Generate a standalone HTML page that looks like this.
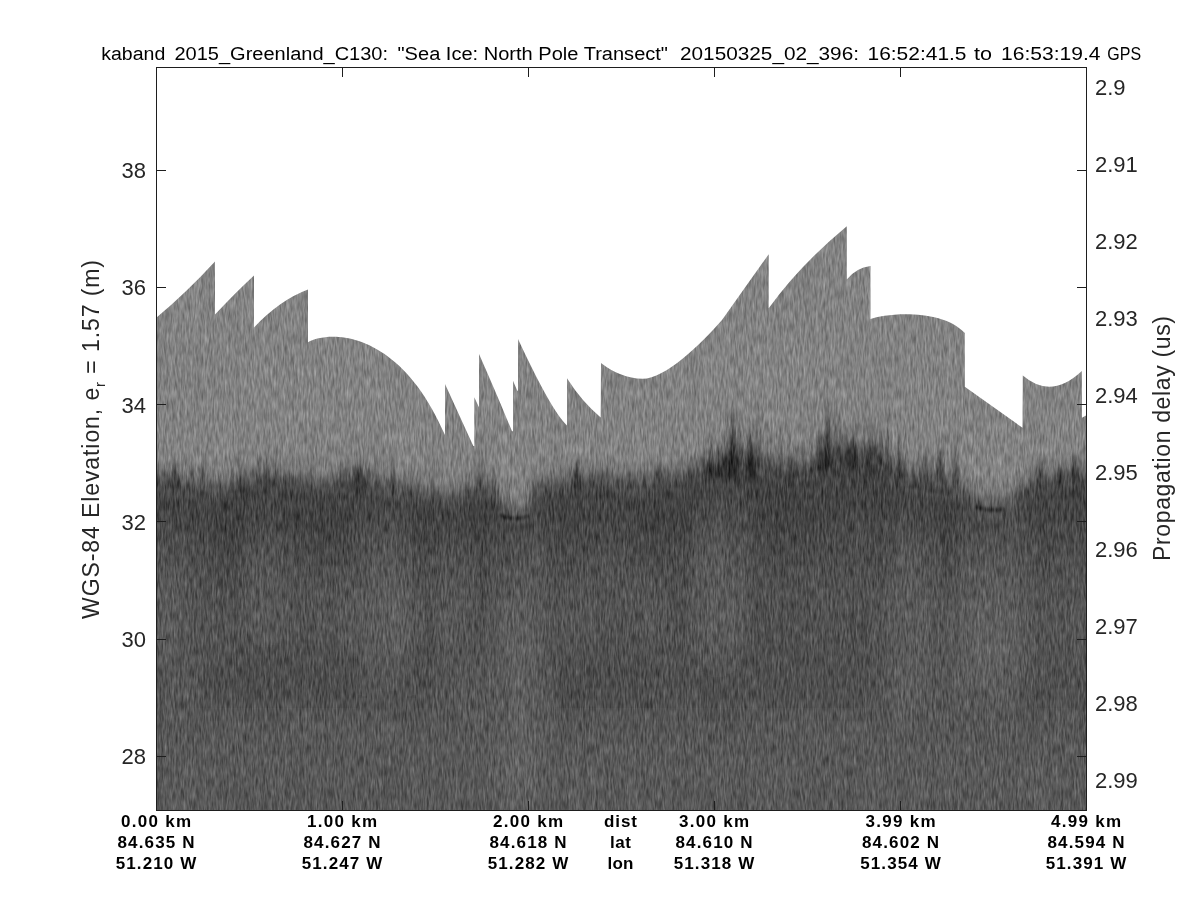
<!DOCTYPE html><html><head><meta charset="utf-8"><style>html,body{margin:0;padding:0;background:#fff;overflow:hidden}svg{display:block;will-change:transform}</style></head><body><svg width="1200" height="900" viewBox="0 0 1200 900"><rect width="1200" height="900" fill="#fff"/><defs><clipPath id="cp"><path d="M156,318 Q186,293 215,261.5 L215,314.5 Q235,293 254,275.4 L254,327.5 Q280,300 308,289.6 L308,342.2 C330,330 400,330 445,435 L445,384 L473.3,446 L474.3,446 L474.3,397.3 L478.7,406.7 L479,406.7 L479,354 Q495,390 512,431.3 L513,431.3 L513,380.7 L517.3,390.7 L518,390.7 L518,339 Q552,412 567,425.4 L567,378.3 Q582,402 600.7,417.4 L601,363 Q620,378 642.5,378.8 C665,379 700,345 722,320 L768.7,254.2 L768.7,308.2 Q800,265 846.8,226.2 L846.8,279.5 Q856,268 870.5,266.1 L870.5,319.1 C885,313 942,308 964.8,333 L964.8,386.7 L1022.5,427.8 L1022.8,375.6 Q1051,400 1081.8,371 L1082,417.8 L1086,415.6 L1086,810 L156,810 Z"/></clipPath><linearGradient id="bd" x1="0" y1="0" x2="0" y2="1"><stop offset="0.000" stop-color="#828282"/><stop offset="0.050" stop-color="#7f7f7f"/><stop offset="0.113" stop-color="#757575"/><stop offset="0.175" stop-color="#5c5c5c"/><stop offset="0.225" stop-color="#4e4e4e"/><stop offset="0.275" stop-color="#444444"/><stop offset="0.438" stop-color="#444444"/><stop offset="0.562" stop-color="#4a4a4a"/><stop offset="0.750" stop-color="#505050"/><stop offset="1.000" stop-color="#555555"/></linearGradient><filter id="bl" filterUnits="userSpaceOnUse" x="100" y="400" width="1050" height="480"><feGaussianBlur stdDeviation="10 20"/></filter><filter id="bl3" x="-50%" y="-50%" width="200%" height="200%"><feGaussianBlur stdDeviation="1 1.5"/></filter><filter id="bl2" x="-50%" y="-50%" width="200%" height="200%"><feGaussianBlur stdDeviation="1.5 4"/></filter><filter id="nz" filterUnits="userSpaceOnUse" x="156" y="200" width="931" height="611" color-interpolation-filters="sRGB"><feTurbulence type="fractalNoise" baseFrequency="0.55 0.09" numOctaves="2" seed="7" result="t1"/><feTurbulence type="fractalNoise" baseFrequency="0.25 0.012" numOctaves="1" seed="3" result="t2"/><feComposite in="t1" in2="t2" operator="arithmetic" k2="0.8" k3="0.2" result="t"/><feColorMatrix in="t" type="matrix" values="1 0 0 0 0 1 0 0 0 0 1 0 0 0 0 0 0 0 0 1" result="n"/><feComposite in="SourceGraphic" in2="n" operator="arithmetic" k2="1" k3="0.4" k4="-0.2"/></filter></defs><g clip-path="url(#cp)"><g filter="url(#nz)"><rect x="156" y="200" width="931" height="400" fill="#828282"/><rect x="156" y="560" width="931" height="251" fill="#555555"/><rect x="157" y="450.1" width="3.3" height="160" fill="url(#bd)"/><rect x="160" y="450.3" width="3.3" height="160" fill="url(#bd)"/><rect x="163" y="450.4" width="3.3" height="160" fill="url(#bd)"/><rect x="166" y="450.6" width="3.3" height="160" fill="url(#bd)"/><rect x="169" y="450.8" width="3.3" height="160" fill="url(#bd)"/><rect x="172" y="450.9" width="3.3" height="160" fill="url(#bd)"/><rect x="175" y="451.6" width="3.3" height="160" fill="url(#bd)"/><rect x="178" y="452.8" width="3.3" height="160" fill="url(#bd)"/><rect x="181" y="454.0" width="3.3" height="160" fill="url(#bd)"/><rect x="184" y="455.2" width="3.3" height="160" fill="url(#bd)"/><rect x="187" y="456.4" width="3.3" height="160" fill="url(#bd)"/><rect x="190" y="457.1" width="3.3" height="160" fill="url(#bd)"/><rect x="193" y="457.4" width="3.3" height="160" fill="url(#bd)"/><rect x="196" y="457.8" width="3.3" height="160" fill="url(#bd)"/><rect x="199" y="458.1" width="3.3" height="160" fill="url(#bd)"/><rect x="202" y="458.4" width="3.3" height="160" fill="url(#bd)"/><rect x="205" y="458.6" width="3.3" height="160" fill="url(#bd)"/><rect x="208" y="458.9" width="3.3" height="160" fill="url(#bd)"/><rect x="211" y="459.2" width="3.3" height="160" fill="url(#bd)"/><rect x="214" y="459.6" width="3.3" height="160" fill="url(#bd)"/><rect x="217" y="459.9" width="3.3" height="160" fill="url(#bd)"/><rect x="220" y="459.7" width="3.3" height="160" fill="url(#bd)"/><rect x="223" y="459.1" width="3.3" height="160" fill="url(#bd)"/><rect x="226" y="458.5" width="3.3" height="160" fill="url(#bd)"/><rect x="229" y="457.9" width="3.3" height="160" fill="url(#bd)"/><rect x="232" y="457.3" width="3.3" height="160" fill="url(#bd)"/><rect x="235" y="456.7" width="3.3" height="160" fill="url(#bd)"/><rect x="238" y="456.1" width="3.3" height="160" fill="url(#bd)"/><rect x="241" y="455.1" width="3.3" height="160" fill="url(#bd)"/><rect x="244" y="454.1" width="3.3" height="160" fill="url(#bd)"/><rect x="247" y="453.0" width="3.3" height="160" fill="url(#bd)"/><rect x="250" y="452.0" width="3.3" height="160" fill="url(#bd)"/><rect x="253" y="450.9" width="3.3" height="160" fill="url(#bd)"/><rect x="256" y="449.9" width="3.3" height="160" fill="url(#bd)"/><rect x="259" y="449.0" width="3.3" height="160" fill="url(#bd)"/><rect x="262" y="449.2" width="3.3" height="160" fill="url(#bd)"/><rect x="265" y="449.3" width="3.3" height="160" fill="url(#bd)"/><rect x="268" y="449.5" width="3.3" height="160" fill="url(#bd)"/><rect x="271" y="449.6" width="3.3" height="160" fill="url(#bd)"/><rect x="274" y="449.8" width="3.3" height="160" fill="url(#bd)"/><rect x="277" y="449.9" width="3.3" height="160" fill="url(#bd)"/><rect x="280" y="450.1" width="3.3" height="160" fill="url(#bd)"/><rect x="283" y="450.2" width="3.3" height="160" fill="url(#bd)"/><rect x="286" y="450.4" width="3.3" height="160" fill="url(#bd)"/><rect x="289" y="450.5" width="3.3" height="160" fill="url(#bd)"/><rect x="292" y="450.7" width="3.3" height="160" fill="url(#bd)"/><rect x="295" y="450.8" width="3.3" height="160" fill="url(#bd)"/><rect x="298" y="451.0" width="3.3" height="160" fill="url(#bd)"/><rect x="301" y="451.9" width="3.3" height="160" fill="url(#bd)"/><rect x="304" y="452.9" width="3.3" height="160" fill="url(#bd)"/><rect x="307" y="454.0" width="3.3" height="160" fill="url(#bd)"/><rect x="310" y="455.0" width="3.3" height="160" fill="url(#bd)"/><rect x="313" y="456.1" width="3.3" height="160" fill="url(#bd)"/><rect x="316" y="457.1" width="3.3" height="160" fill="url(#bd)"/><rect x="319" y="457.8" width="3.3" height="160" fill="url(#bd)"/><rect x="322" y="456.7" width="3.3" height="160" fill="url(#bd)"/><rect x="325" y="455.7" width="3.3" height="160" fill="url(#bd)"/><rect x="328" y="454.6" width="3.3" height="160" fill="url(#bd)"/><rect x="331" y="453.5" width="3.3" height="160" fill="url(#bd)"/><rect x="334" y="452.4" width="3.3" height="160" fill="url(#bd)"/><rect x="337" y="451.3" width="3.3" height="160" fill="url(#bd)"/><rect x="340" y="450.3" width="3.3" height="160" fill="url(#bd)"/><rect x="343" y="449.2" width="3.3" height="160" fill="url(#bd)"/><rect x="346" y="448.2" width="3.3" height="160" fill="url(#bd)"/><rect x="349" y="447.2" width="3.3" height="160" fill="url(#bd)"/><rect x="352" y="446.2" width="3.3" height="160" fill="url(#bd)"/><rect x="355" y="445.2" width="3.3" height="160" fill="url(#bd)"/><rect x="358" y="444.2" width="3.3" height="160" fill="url(#bd)"/><rect x="361" y="445.7" width="3.3" height="160" fill="url(#bd)"/><rect x="364" y="447.7" width="3.3" height="160" fill="url(#bd)"/><rect x="367" y="449.7" width="3.3" height="160" fill="url(#bd)"/><rect x="370" y="451.7" width="3.3" height="160" fill="url(#bd)"/><rect x="373" y="453.7" width="3.3" height="160" fill="url(#bd)"/><rect x="376" y="454.6" width="3.3" height="160" fill="url(#bd)"/><rect x="379" y="455.3" width="3.3" height="160" fill="url(#bd)"/><rect x="382" y="456.0" width="3.3" height="160" fill="url(#bd)"/><rect x="385" y="456.8" width="3.3" height="160" fill="url(#bd)"/><rect x="388" y="457.5" width="3.3" height="160" fill="url(#bd)"/><rect x="391" y="458.2" width="3.3" height="160" fill="url(#bd)"/><rect x="394" y="458.9" width="3.3" height="160" fill="url(#bd)"/><rect x="397" y="459.6" width="3.3" height="160" fill="url(#bd)"/><rect x="400" y="460.4" width="3.3" height="160" fill="url(#bd)"/><rect x="403" y="461.1" width="3.3" height="160" fill="url(#bd)"/><rect x="406" y="461.8" width="3.3" height="160" fill="url(#bd)"/><rect x="409" y="462.4" width="3.3" height="160" fill="url(#bd)"/><rect x="412" y="463.1" width="3.3" height="160" fill="url(#bd)"/><rect x="415" y="463.9" width="3.3" height="160" fill="url(#bd)"/><rect x="418" y="464.6" width="3.3" height="160" fill="url(#bd)"/><rect x="421" y="465.2" width="3.3" height="160" fill="url(#bd)"/><rect x="424" y="465.9" width="3.3" height="160" fill="url(#bd)"/><rect x="427" y="466.6" width="3.3" height="160" fill="url(#bd)"/><rect x="430" y="467.2" width="3.3" height="160" fill="url(#bd)"/><rect x="433" y="467.5" width="3.3" height="160" fill="url(#bd)"/><rect x="436" y="467.9" width="3.3" height="160" fill="url(#bd)"/><rect x="439" y="468.3" width="3.3" height="160" fill="url(#bd)"/><rect x="442" y="468.6" width="3.3" height="160" fill="url(#bd)"/><rect x="445" y="469.0" width="3.3" height="160" fill="url(#bd)"/><rect x="448" y="469.3" width="3.3" height="160" fill="url(#bd)"/><rect x="451" y="469.7" width="3.3" height="160" fill="url(#bd)"/><rect x="454" y="469.7" width="3.3" height="160" fill="url(#bd)"/><rect x="457" y="468.1" width="3.3" height="160" fill="url(#bd)"/><rect x="460" y="466.5" width="3.3" height="160" fill="url(#bd)"/><rect x="463" y="464.9" width="3.3" height="160" fill="url(#bd)"/><rect x="466" y="463.3" width="3.3" height="160" fill="url(#bd)"/><rect x="469" y="461.9" width="3.3" height="160" fill="url(#bd)"/><rect x="472" y="461.3" width="3.3" height="160" fill="url(#bd)"/><rect x="475" y="460.7" width="3.3" height="160" fill="url(#bd)"/><rect x="478" y="460.1" width="3.3" height="160" fill="url(#bd)"/><rect x="481" y="459.5" width="3.3" height="160" fill="url(#bd)"/><rect x="484" y="459.1" width="3.3" height="160" fill="url(#bd)"/><rect x="487" y="459.6" width="3.3" height="160" fill="url(#bd)"/><rect x="490" y="460.2" width="3.3" height="160" fill="url(#bd)"/><rect x="493" y="460.7" width="3.3" height="160" fill="url(#bd)"/><rect x="496" y="465.5" width="3.3" height="160" fill="url(#bd)"/><rect x="499" y="474.0" width="3.3" height="160" fill="url(#bd)"/><rect x="502" y="480.0" width="3.3" height="160" fill="url(#bd)"/><rect x="505" y="483.1" width="3.3" height="160" fill="url(#bd)"/><rect x="508" y="483.2" width="3.3" height="160" fill="url(#bd)"/><rect x="511" y="483.4" width="3.3" height="160" fill="url(#bd)"/><rect x="514" y="483.6" width="3.3" height="160" fill="url(#bd)"/><rect x="517" y="483.7" width="3.3" height="160" fill="url(#bd)"/><rect x="520" y="483.9" width="3.3" height="160" fill="url(#bd)"/><rect x="523" y="483.0" width="3.3" height="160" fill="url(#bd)"/><rect x="526" y="477.0" width="3.3" height="160" fill="url(#bd)"/><rect x="529" y="470.1" width="3.3" height="160" fill="url(#bd)"/><rect x="532" y="462.3" width="3.3" height="160" fill="url(#bd)"/><rect x="535" y="460.1" width="3.3" height="160" fill="url(#bd)"/><rect x="538" y="459.0" width="3.3" height="160" fill="url(#bd)"/><rect x="541" y="457.9" width="3.3" height="160" fill="url(#bd)"/><rect x="544" y="457.0" width="3.3" height="160" fill="url(#bd)"/><rect x="547" y="456.8" width="3.3" height="160" fill="url(#bd)"/><rect x="550" y="456.6" width="3.3" height="160" fill="url(#bd)"/><rect x="553" y="456.4" width="3.3" height="160" fill="url(#bd)"/><rect x="556" y="456.2" width="3.3" height="160" fill="url(#bd)"/><rect x="559" y="455.9" width="3.3" height="160" fill="url(#bd)"/><rect x="562" y="454.9" width="3.3" height="160" fill="url(#bd)"/><rect x="565" y="454.1" width="3.3" height="160" fill="url(#bd)"/><rect x="568" y="453.1" width="3.3" height="160" fill="url(#bd)"/><rect x="571" y="452.2" width="3.3" height="160" fill="url(#bd)"/><rect x="574" y="451.4" width="3.3" height="160" fill="url(#bd)"/><rect x="577" y="450.4" width="3.3" height="160" fill="url(#bd)"/><rect x="580" y="450.1" width="3.3" height="160" fill="url(#bd)"/><rect x="583" y="450.3" width="3.3" height="160" fill="url(#bd)"/><rect x="586" y="450.6" width="3.3" height="160" fill="url(#bd)"/><rect x="589" y="450.8" width="3.3" height="160" fill="url(#bd)"/><rect x="592" y="451.0" width="3.3" height="160" fill="url(#bd)"/><rect x="595" y="451.2" width="3.3" height="160" fill="url(#bd)"/><rect x="598" y="451.5" width="3.3" height="160" fill="url(#bd)"/><rect x="601" y="451.7" width="3.3" height="160" fill="url(#bd)"/><rect x="604" y="451.9" width="3.3" height="160" fill="url(#bd)"/><rect x="607" y="452.1" width="3.3" height="160" fill="url(#bd)"/><rect x="610" y="452.4" width="3.3" height="160" fill="url(#bd)"/><rect x="613" y="452.6" width="3.3" height="160" fill="url(#bd)"/><rect x="616" y="452.8" width="3.3" height="160" fill="url(#bd)"/><rect x="619" y="453.0" width="3.3" height="160" fill="url(#bd)"/><rect x="622" y="452.8" width="3.3" height="160" fill="url(#bd)"/><rect x="625" y="452.7" width="3.3" height="160" fill="url(#bd)"/><rect x="628" y="452.5" width="3.3" height="160" fill="url(#bd)"/><rect x="631" y="452.4" width="3.3" height="160" fill="url(#bd)"/><rect x="634" y="452.2" width="3.3" height="160" fill="url(#bd)"/><rect x="637" y="452.1" width="3.3" height="160" fill="url(#bd)"/><rect x="640" y="451.9" width="3.3" height="160" fill="url(#bd)"/><rect x="643" y="451.8" width="3.3" height="160" fill="url(#bd)"/><rect x="646" y="451.6" width="3.3" height="160" fill="url(#bd)"/><rect x="649" y="451.5" width="3.3" height="160" fill="url(#bd)"/><rect x="652" y="451.3" width="3.3" height="160" fill="url(#bd)"/><rect x="655" y="451.2" width="3.3" height="160" fill="url(#bd)"/><rect x="658" y="451.0" width="3.3" height="160" fill="url(#bd)"/><rect x="661" y="450.9" width="3.3" height="160" fill="url(#bd)"/><rect x="664" y="450.7" width="3.3" height="160" fill="url(#bd)"/><rect x="667" y="450.6" width="3.3" height="160" fill="url(#bd)"/><rect x="670" y="450.4" width="3.3" height="160" fill="url(#bd)"/><rect x="673" y="450.3" width="3.3" height="160" fill="url(#bd)"/><rect x="676" y="450.1" width="3.3" height="160" fill="url(#bd)"/><rect x="679" y="449.8" width="3.3" height="160" fill="url(#bd)"/><rect x="682" y="448.2" width="3.3" height="160" fill="url(#bd)"/><rect x="685" y="446.8" width="3.3" height="160" fill="url(#bd)"/><rect x="688" y="445.2" width="3.3" height="160" fill="url(#bd)"/><rect x="691" y="443.8" width="3.3" height="160" fill="url(#bd)"/><rect x="694" y="442.2" width="3.3" height="160" fill="url(#bd)"/><rect x="697" y="440.8" width="3.3" height="160" fill="url(#bd)"/><rect x="700" y="439.4" width="3.3" height="160" fill="url(#bd)"/><rect x="703" y="438.2" width="3.3" height="160" fill="url(#bd)"/><rect x="706" y="437.0" width="3.3" height="160" fill="url(#bd)"/><rect x="709" y="435.8" width="3.3" height="160" fill="url(#bd)"/><rect x="712" y="434.6" width="3.3" height="160" fill="url(#bd)"/><rect x="715" y="433.4" width="3.3" height="160" fill="url(#bd)"/><rect x="718" y="432.2" width="3.3" height="160" fill="url(#bd)"/><rect x="721" y="431.0" width="3.3" height="160" fill="url(#bd)"/><rect x="724" y="429.8" width="3.3" height="160" fill="url(#bd)"/><rect x="727" y="428.6" width="3.3" height="160" fill="url(#bd)"/><rect x="730" y="428.2" width="3.3" height="160" fill="url(#bd)"/><rect x="733" y="428.6" width="3.3" height="160" fill="url(#bd)"/><rect x="736" y="429.0" width="3.3" height="160" fill="url(#bd)"/><rect x="739" y="429.4" width="3.3" height="160" fill="url(#bd)"/><rect x="742" y="429.8" width="3.3" height="160" fill="url(#bd)"/><rect x="745" y="430.2" width="3.3" height="160" fill="url(#bd)"/><rect x="748" y="430.6" width="3.3" height="160" fill="url(#bd)"/><rect x="751" y="431.0" width="3.3" height="160" fill="url(#bd)"/><rect x="754" y="431.4" width="3.3" height="160" fill="url(#bd)"/><rect x="757" y="431.8" width="3.3" height="160" fill="url(#bd)"/><rect x="760" y="432.8" width="3.3" height="160" fill="url(#bd)"/><rect x="763" y="434.2" width="3.3" height="160" fill="url(#bd)"/><rect x="766" y="435.8" width="3.3" height="160" fill="url(#bd)"/><rect x="769" y="437.2" width="3.3" height="160" fill="url(#bd)"/><rect x="772" y="438.8" width="3.3" height="160" fill="url(#bd)"/><rect x="775" y="440.2" width="3.3" height="160" fill="url(#bd)"/><rect x="778" y="441.8" width="3.3" height="160" fill="url(#bd)"/><rect x="781" y="441.9" width="3.3" height="160" fill="url(#bd)"/><rect x="784" y="441.7" width="3.3" height="160" fill="url(#bd)"/><rect x="787" y="441.6" width="3.3" height="160" fill="url(#bd)"/><rect x="790" y="441.4" width="3.3" height="160" fill="url(#bd)"/><rect x="793" y="441.3" width="3.3" height="160" fill="url(#bd)"/><rect x="796" y="441.1" width="3.3" height="160" fill="url(#bd)"/><rect x="799" y="440.8" width="3.3" height="160" fill="url(#bd)"/><rect x="802" y="439.7" width="3.3" height="160" fill="url(#bd)"/><rect x="805" y="438.6" width="3.3" height="160" fill="url(#bd)"/><rect x="808" y="437.5" width="3.3" height="160" fill="url(#bd)"/><rect x="811" y="436.4" width="3.3" height="160" fill="url(#bd)"/><rect x="814" y="435.3" width="3.3" height="160" fill="url(#bd)"/><rect x="817" y="434.2" width="3.3" height="160" fill="url(#bd)"/><rect x="820" y="433.1" width="3.3" height="160" fill="url(#bd)"/><rect x="823" y="432.0" width="3.3" height="160" fill="url(#bd)"/><rect x="826" y="430.9" width="3.3" height="160" fill="url(#bd)"/><rect x="829" y="429.8" width="3.3" height="160" fill="url(#bd)"/><rect x="832" y="428.6" width="3.3" height="160" fill="url(#bd)"/><rect x="835" y="427.4" width="3.3" height="160" fill="url(#bd)"/><rect x="838" y="426.2" width="3.3" height="160" fill="url(#bd)"/><rect x="841" y="425.0" width="3.3" height="160" fill="url(#bd)"/><rect x="844" y="423.8" width="3.3" height="160" fill="url(#bd)"/><rect x="847" y="422.6" width="3.3" height="160" fill="url(#bd)"/><rect x="850" y="422.2" width="3.3" height="160" fill="url(#bd)"/><rect x="853" y="422.5" width="3.3" height="160" fill="url(#bd)"/><rect x="856" y="422.9" width="3.3" height="160" fill="url(#bd)"/><rect x="859" y="423.3" width="3.3" height="160" fill="url(#bd)"/><rect x="862" y="423.6" width="3.3" height="160" fill="url(#bd)"/><rect x="865" y="424.0" width="3.3" height="160" fill="url(#bd)"/><rect x="868" y="424.3" width="3.3" height="160" fill="url(#bd)"/><rect x="871" y="424.7" width="3.3" height="160" fill="url(#bd)"/><rect x="874" y="425.4" width="3.3" height="160" fill="url(#bd)"/><rect x="877" y="427.6" width="3.3" height="160" fill="url(#bd)"/><rect x="880" y="429.9" width="3.3" height="160" fill="url(#bd)"/><rect x="883" y="432.1" width="3.3" height="160" fill="url(#bd)"/><rect x="886" y="434.4" width="3.3" height="160" fill="url(#bd)"/><rect x="889" y="436.6" width="3.3" height="160" fill="url(#bd)"/><rect x="892" y="438.9" width="3.3" height="160" fill="url(#bd)"/><rect x="895" y="441.2" width="3.3" height="160" fill="url(#bd)"/><rect x="898" y="443.6" width="3.3" height="160" fill="url(#bd)"/><rect x="901" y="446.0" width="3.3" height="160" fill="url(#bd)"/><rect x="904" y="448.4" width="3.3" height="160" fill="url(#bd)"/><rect x="907" y="450.8" width="3.3" height="160" fill="url(#bd)"/><rect x="910" y="452.3" width="3.3" height="160" fill="url(#bd)"/><rect x="913" y="452.9" width="3.3" height="160" fill="url(#bd)"/><rect x="916" y="453.5" width="3.3" height="160" fill="url(#bd)"/><rect x="919" y="454.1" width="3.3" height="160" fill="url(#bd)"/><rect x="922" y="454.7" width="3.3" height="160" fill="url(#bd)"/><rect x="925" y="455.3" width="3.3" height="160" fill="url(#bd)"/><rect x="928" y="455.9" width="3.3" height="160" fill="url(#bd)"/><rect x="931" y="456.5" width="3.3" height="160" fill="url(#bd)"/><rect x="934" y="457.1" width="3.3" height="160" fill="url(#bd)"/><rect x="937" y="457.6" width="3.3" height="160" fill="url(#bd)"/><rect x="940" y="458.1" width="3.3" height="160" fill="url(#bd)"/><rect x="943" y="458.7" width="3.3" height="160" fill="url(#bd)"/><rect x="946" y="459.2" width="3.3" height="160" fill="url(#bd)"/><rect x="949" y="459.7" width="3.3" height="160" fill="url(#bd)"/><rect x="952" y="460.2" width="3.3" height="160" fill="url(#bd)"/><rect x="955" y="460.7" width="3.3" height="160" fill="url(#bd)"/><rect x="958" y="462.0" width="3.3" height="160" fill="url(#bd)"/><rect x="961" y="463.9" width="3.3" height="160" fill="url(#bd)"/><rect x="964" y="465.8" width="3.3" height="160" fill="url(#bd)"/><rect x="967" y="467.8" width="3.3" height="160" fill="url(#bd)"/><rect x="970" y="469.7" width="3.3" height="160" fill="url(#bd)"/><rect x="973" y="471.0" width="3.3" height="160" fill="url(#bd)"/><rect x="976" y="472.1" width="3.3" height="160" fill="url(#bd)"/><rect x="979" y="473.3" width="3.3" height="160" fill="url(#bd)"/><rect x="982" y="474.4" width="3.3" height="160" fill="url(#bd)"/><rect x="985" y="475.1" width="3.3" height="160" fill="url(#bd)"/><rect x="988" y="475.3" width="3.3" height="160" fill="url(#bd)"/><rect x="991" y="475.5" width="3.3" height="160" fill="url(#bd)"/><rect x="994" y="475.7" width="3.3" height="160" fill="url(#bd)"/><rect x="997" y="475.9" width="3.3" height="160" fill="url(#bd)"/><rect x="1000" y="475.5" width="3.3" height="160" fill="url(#bd)"/><rect x="1003" y="474.5" width="3.3" height="160" fill="url(#bd)"/><rect x="1006" y="473.5" width="3.3" height="160" fill="url(#bd)"/><rect x="1009" y="472.5" width="3.3" height="160" fill="url(#bd)"/><rect x="1012" y="470.8" width="3.3" height="160" fill="url(#bd)"/><rect x="1015" y="468.5" width="3.3" height="160" fill="url(#bd)"/><rect x="1018" y="466.1" width="3.3" height="160" fill="url(#bd)"/><rect x="1021" y="463.8" width="3.3" height="160" fill="url(#bd)"/><rect x="1024" y="461.4" width="3.3" height="160" fill="url(#bd)"/><rect x="1027" y="459.6" width="3.3" height="160" fill="url(#bd)"/><rect x="1030" y="457.9" width="3.3" height="160" fill="url(#bd)"/><rect x="1033" y="456.1" width="3.3" height="160" fill="url(#bd)"/><rect x="1036" y="454.4" width="3.3" height="160" fill="url(#bd)"/><rect x="1039" y="452.9" width="3.3" height="160" fill="url(#bd)"/><rect x="1042" y="452.1" width="3.3" height="160" fill="url(#bd)"/><rect x="1045" y="451.4" width="3.3" height="160" fill="url(#bd)"/><rect x="1048" y="450.6" width="3.3" height="160" fill="url(#bd)"/><rect x="1051" y="449.9" width="3.3" height="160" fill="url(#bd)"/><rect x="1054" y="449.1" width="3.3" height="160" fill="url(#bd)"/><rect x="1057" y="448.4" width="3.3" height="160" fill="url(#bd)"/><rect x="1060" y="447.9" width="3.3" height="160" fill="url(#bd)"/><rect x="1063" y="447.7" width="3.3" height="160" fill="url(#bd)"/><rect x="1066" y="447.4" width="3.3" height="160" fill="url(#bd)"/><rect x="1069" y="447.2" width="3.3" height="160" fill="url(#bd)"/><rect x="1072" y="447.0" width="3.3" height="160" fill="url(#bd)"/><rect x="1075" y="446.7" width="3.3" height="160" fill="url(#bd)"/><rect x="1078" y="446.5" width="3.3" height="160" fill="url(#bd)"/><rect x="1081" y="446.3" width="3.3" height="160" fill="url(#bd)"/><rect x="1084" y="446.1" width="2.3" height="160" fill="url(#bd)"/><g filter="url(#bl)"><rect x="156" y="520" width="26" height="130" fill="#fff" fill-opacity="0.04"/><rect x="221" y="495" width="32" height="115" fill="#000" fill-opacity="0.08"/><rect x="253" y="520" width="24" height="100" fill="#fff" fill-opacity="0.032"/><rect x="277" y="495" width="81" height="65" fill="#000" fill-opacity="0.048"/><rect x="367" y="520" width="40" height="170" fill="#fff" fill-opacity="0.056"/><rect x="407" y="495" width="33" height="195" fill="#000" fill-opacity="0.08"/><rect x="440" y="540" width="24" height="80" fill="#fff" fill-opacity="0.04"/><rect x="464" y="500" width="40" height="140" fill="#000" fill-opacity="0.064"/><rect x="504" y="525" width="33" height="285" fill="#fff" fill-opacity="0.064"/><rect x="537" y="500" width="24" height="140" fill="#000" fill-opacity="0.056"/><rect x="665" y="495" width="32" height="155" fill="#000" fill-opacity="0.064"/><rect x="701" y="500" width="33" height="150" fill="#fff" fill-opacity="0.04"/><rect x="746" y="495" width="64" height="155" fill="#000" fill-opacity="0.064"/><rect x="827" y="495" width="73" height="155" fill="#000" fill-opacity="0.064"/><rect x="900" y="520" width="24" height="200" fill="#fff" fill-opacity="0.056"/><rect x="940" y="495" width="24" height="155" fill="#000" fill-opacity="0.056"/><rect x="964" y="515" width="57" height="175" fill="#fff" fill-opacity="0.072"/><rect x="1021" y="500" width="24" height="150" fill="#000" fill-opacity="0.056"/><rect x="205" y="645" width="215" height="70" fill="#000" fill-opacity="0.1"/><rect x="530" y="650" width="130" height="65" fill="#000" fill-opacity="0.064"/><rect x="680" y="645" width="200" height="67" fill="#000" fill-opacity="0.075"/><rect x="560" y="650" width="120" height="65" fill="#000" fill-opacity="0.05"/><rect x="1000" y="650" width="86" height="65" fill="#000" fill-opacity="0.064"/><rect x="156" y="735" width="930" height="80" fill="#fff" fill-opacity="0.024"/></g><g filter="url(#bl2)"><path d="M175,455 L180,490 L170,490 Z" fill="#000" fill-opacity="0.3"/><path d="M203,445 L205.5,485 L200.5,485 Z" fill="#000" fill-opacity="0.35"/><path d="M266,458 L269,490 L263,490 Z" fill="#000" fill-opacity="0.35"/><path d="M245,475 L251,495 L239,495 Z" fill="#000" fill-opacity="0.25"/><path d="M360,462 L367,490 L353,490 Z" fill="#000" fill-opacity="0.3"/><path d="M393,440 L395.5,490 L390.5,490 Z" fill="#000" fill-opacity="0.3"/><path d="M480,445 L484,490 L476,490 Z" fill="#000" fill-opacity="0.25"/><path d="M577,460 L583,490 L571,490 Z" fill="#000" fill-opacity="0.35"/><path d="M600,470 L605,488 L595,488 Z" fill="#000" fill-opacity="0.25"/><path d="M660,455 L665,485 L655,485 Z" fill="#000" fill-opacity="0.3"/><path d="M690,462 L696,482 L684,482 Z" fill="#000" fill-opacity="0.25"/><path d="M733,405 L739,478 L727,478 Z" fill="#000" fill-opacity="0.5"/><path d="M751,430 L757,478 L745,478 Z" fill="#000" fill-opacity="0.5"/><path d="M723,446 L729,478 L717,478 Z" fill="#000" fill-opacity="0.4"/><path d="M710,456 L718,478 L702,478 Z" fill="#000" fill-opacity="0.35"/><path d="M756,392 L757,440 L755,440 Z" fill="#000" fill-opacity="0.25"/><path d="M828,400 L834,470 L822,470 Z" fill="#000" fill-opacity="0.45"/><path d="M820,426 L826,470 L814,470 Z" fill="#000" fill-opacity="0.4"/><path d="M852,430 L859,470 L845,470 Z" fill="#000" fill-opacity="0.4"/><path d="M900,438 L902,480 L898,480 Z" fill="#000" fill-opacity="0.35"/><path d="M870,445 L876,475 L864,475 Z" fill="#000" fill-opacity="0.3"/><path d="M790,455 L795,480 L785,480 Z" fill="#000" fill-opacity="0.25"/><path d="M940,445 L946,482 L934,482 Z" fill="#000" fill-opacity="0.35"/><path d="M955,440 L959,485 L951,485 Z" fill="#000" fill-opacity="0.35"/><path d="M925,450 L930,482 L920,482 Z" fill="#000" fill-opacity="0.3"/><path d="M1040,455 L1045,488 L1035,488 Z" fill="#000" fill-opacity="0.3"/><path d="M1060,462 L1065,486 L1055,486 Z" fill="#000" fill-opacity="0.25"/><path d="M1075,450 L1080,486 L1070,486 Z" fill="#000" fill-opacity="0.3"/><circle cx="445" cy="515" r="3" fill="#000" fill-opacity="0.5"/><circle cx="225" cy="505" r="3" fill="#000" fill-opacity="0.4"/></g><g filter="url(#bl3)"><path d="M158.0,458.5 L159.9,486.1 L156.1,486.1 Z" fill="#000" fill-opacity="0.30"/><path d="M168.1,457.4 L170.1,486.6 L166.2,486.6 Z" fill="#000" fill-opacity="0.16"/><path d="M178.8,455.6 L181.0,488.5 L176.5,488.5 Z" fill="#000" fill-opacity="0.14"/><path d="M187.1,475.1 L189.4,491.8 L184.8,491.8 Z" fill="#000" fill-opacity="0.26"/><path d="M192.6,449.8 L195.1,493.3 L190.0,493.3 Z" fill="#000" fill-opacity="0.25"/><path d="M204.3,475.7 L205.3,494.4 L203.3,494.4 Z" fill="#000" fill-opacity="0.23"/><path d="M210.0,475.3 L211.4,495.0 L208.6,495.0 Z" fill="#000" fill-opacity="0.13"/><path d="M220.1,468.8 L222.4,496.0 L217.7,496.0 Z" fill="#000" fill-opacity="0.22"/><path d="M232.1,464.6 L234.2,493.6 L230.1,493.6 Z" fill="#000" fill-opacity="0.21"/><path d="M240.2,448.0 L242.8,491.9 L237.6,491.9 Z" fill="#000" fill-opacity="0.29"/><path d="M253.0,464.0 L254.3,487.5 L251.6,487.5 Z" fill="#000" fill-opacity="0.18"/><path d="M258.7,448.5 L260.4,485.4 L257.1,485.4 Z" fill="#000" fill-opacity="0.29"/><path d="M268.0,442.7 L270.3,485.4 L265.6,485.4 Z" fill="#000" fill-opacity="0.12"/><path d="M275.3,444.5 L277.1,485.8 L273.5,485.8 Z" fill="#000" fill-opacity="0.32"/><path d="M284.7,470.0 L286.7,486.2 L282.7,486.2 Z" fill="#000" fill-opacity="0.28"/><path d="M292.6,470.0 L294.2,486.6 L291.1,486.6 Z" fill="#000" fill-opacity="0.31"/><path d="M306.0,471.6 L307.4,489.1 L304.6,489.1 Z" fill="#000" fill-opacity="0.14"/><path d="M311.6,453.2 L312.9,491.1 L310.4,491.1 Z" fill="#000" fill-opacity="0.23"/><path d="M321.6,473.7 L323.7,493.4 L319.4,493.4 Z" fill="#000" fill-opacity="0.15"/><path d="M333.6,471.6 L335.3,489.1 L332.0,489.1 Z" fill="#000" fill-opacity="0.16"/><path d="M341.6,443.1 L343.9,486.2 L339.3,486.2 Z" fill="#000" fill-opacity="0.18"/><path d="M356.3,460.9 L358.0,481.2 L354.7,481.2 Z" fill="#000" fill-opacity="0.29"/><path d="M368.4,468.6 L371.0,485.6 L365.8,485.6 Z" fill="#000" fill-opacity="0.16"/><path d="M376.2,453.1 L377.8,490.3 L374.7,490.3 Z" fill="#000" fill-opacity="0.18"/><path d="M382.0,475.0 L384.0,491.7 L380.1,491.7 Z" fill="#000" fill-opacity="0.17"/><path d="M393.7,469.3 L395.4,494.5 L391.9,494.5 Z" fill="#000" fill-opacity="0.31"/><path d="M404.0,465.7 L406.4,496.9 L401.6,496.9 Z" fill="#000" fill-opacity="0.16"/><path d="M410.7,457.2 L413.0,498.5 L408.4,498.5 Z" fill="#000" fill-opacity="0.17"/><path d="M417.8,464.0 L420.3,500.1 L415.3,500.1 Z" fill="#000" fill-opacity="0.16"/><path d="M433.2,462.9 L435.2,503.4 L431.3,503.4 Z" fill="#000" fill-opacity="0.20"/><path d="M439.4,489.0 L441.9,504.1 L436.8,504.1 Z" fill="#000" fill-opacity="0.17"/><path d="M452.1,483.9 L454.4,505.7 L449.8,505.7 Z" fill="#000" fill-opacity="0.24"/><path d="M460.3,483.9 L462.5,503.2 L458.2,503.2 Z" fill="#000" fill-opacity="0.13"/><path d="M467.9,468.4 L470.2,499.1 L465.5,499.1 Z" fill="#000" fill-opacity="0.24"/><path d="M475.9,455.3 L477.3,496.8 L474.6,496.8 Z" fill="#000" fill-opacity="0.12"/><path d="M483.9,467.8 L485.0,495.2 L482.8,495.2 Z" fill="#000" fill-opacity="0.16"/><path d="M493.0,465.3 L494.2,496.4 L491.7,496.4 Z" fill="#000" fill-opacity="0.19"/><path d="M507.8,475.7 L509.8,519.1 L505.7,519.1 Z" fill="#000" fill-opacity="0.26"/><path d="M519.2,501.5 L520.2,519.7 L518.1,519.7 Z" fill="#000" fill-opacity="0.12"/><path d="M534.2,461.9 L536.7,496.9 L531.7,496.9 Z" fill="#000" fill-opacity="0.12"/><path d="M546.2,464.5 L548.4,492.9 L544.0,492.9 Z" fill="#000" fill-opacity="0.18"/><path d="M562.2,475.1 L564.1,491.3 L560.3,491.3 Z" fill="#000" fill-opacity="0.27"/><path d="M577.1,450.8 L579.2,486.9 L575.0,486.9 Z" fill="#000" fill-opacity="0.28"/><path d="M592.2,462.4 L594.2,486.9 L590.1,486.9 Z" fill="#000" fill-opacity="0.30"/><path d="M606.7,461.5 L609.0,488.0 L604.5,488.0 Z" fill="#000" fill-opacity="0.29"/><path d="M618.0,456.1 L619.6,488.9 L616.4,488.9 Z" fill="#000" fill-opacity="0.24"/><path d="M629.7,472.1 L631.8,488.5 L627.7,488.5 Z" fill="#000" fill-opacity="0.32"/><path d="M644.4,451.9 L646.0,487.8 L642.8,487.8 Z" fill="#000" fill-opacity="0.27"/><path d="M655.8,460.0 L658.1,487.2 L653.5,487.2 Z" fill="#000" fill-opacity="0.14"/><path d="M669.1,471.7 L671.0,486.5 L667.1,486.5 Z" fill="#000" fill-opacity="0.22"/><path d="M676.6,451.2 L678.4,486.2 L674.8,486.2 Z" fill="#000" fill-opacity="0.24"/><path d="M691.7,458.5 L692.7,480.1 L690.7,480.1 Z" fill="#000" fill-opacity="0.18"/><path d="M704.2,439.8 L705.7,474.3 L702.6,474.3 Z" fill="#000" fill-opacity="0.33"/><path d="M711.1,427.0 L714.1,471.5 L708.1,471.5 Z" fill="#000" fill-opacity="0.22"/><path d="M718.1,434.4 L720.2,468.7 L716.1,468.7 Z" fill="#000" fill-opacity="0.31"/><path d="M726.6,402.4 L728.6,465.4 L724.6,465.4 Z" fill="#000" fill-opacity="0.27"/><path d="M731.5,432.5 L733.7,464.2 L729.3,464.2 Z" fill="#000" fill-opacity="0.32"/><path d="M739.6,409.4 L742.7,465.3 L736.5,465.3 Z" fill="#000" fill-opacity="0.21"/><path d="M743.6,420.9 L745.4,465.8 L741.9,465.8 Z" fill="#000" fill-opacity="0.19"/><path d="M749.1,414.3 L751.3,466.5 L746.9,466.5 Z" fill="#000" fill-opacity="0.21"/><path d="M757.1,400.4 L759.2,467.6 L755.0,467.6 Z" fill="#000" fill-opacity="0.16"/><path d="M760.3,405.5 L761.6,468.2 L759.0,468.2 Z" fill="#000" fill-opacity="0.29"/><path d="M766.7,432.4 L769.5,471.4 L764.0,471.4 Z" fill="#000" fill-opacity="0.15"/><path d="M770.6,428.2 L771.8,473.3 L769.3,473.3 Z" fill="#000" fill-opacity="0.32"/><path d="M775.0,443.6 L776.3,475.5 L773.7,475.5 Z" fill="#000" fill-opacity="0.28"/><path d="M780.7,425.5 L783.2,478.0 L778.2,478.0 Z" fill="#000" fill-opacity="0.31"/><path d="M789.4,422.8 L791.0,477.5 L787.8,477.5 Z" fill="#000" fill-opacity="0.25"/><path d="M793.5,450.9 L795.6,477.3 L791.3,477.3 Z" fill="#000" fill-opacity="0.29"/><path d="M797.6,439.7 L799.5,477.1 L795.7,477.1 Z" fill="#000" fill-opacity="0.29"/><path d="M803.7,423.8 L806.4,475.6 L801.0,475.6 Z" fill="#000" fill-opacity="0.23"/><path d="M811.4,408.7 L812.8,472.8 L810.1,472.8 Z" fill="#000" fill-opacity="0.34"/><path d="M818.8,438.7 L820.9,470.1 L816.7,470.1 Z" fill="#000" fill-opacity="0.28"/><path d="M827.2,425.2 L829.6,467.0 L824.9,467.0 Z" fill="#000" fill-opacity="0.33"/><path d="M835.0,398.3 L837.1,464.0 L832.9,464.0 Z" fill="#000" fill-opacity="0.28"/><path d="M839.2,406.0 L842.1,462.3 L836.4,462.3 Z" fill="#000" fill-opacity="0.28"/><path d="M846.5,424.4 L849.5,459.4 L843.5,459.4 Z" fill="#000" fill-opacity="0.35"/><path d="M855.4,410.1 L858.2,458.6 L852.6,458.6 Z" fill="#000" fill-opacity="0.21"/><path d="M863.9,397.7 L865.8,459.7 L862.0,459.7 Z" fill="#000" fill-opacity="0.17"/><path d="M869.5,411.2 L872.3,460.3 L866.8,460.3 Z" fill="#000" fill-opacity="0.25"/><path d="M872.7,400.7 L874.0,460.7 L871.4,460.7 Z" fill="#000" fill-opacity="0.31"/><path d="M876.7,422.2 L879.5,462.3 L873.9,462.3 Z" fill="#000" fill-opacity="0.18"/><path d="M880.6,417.5 L883.3,465.2 L878.0,465.2 Z" fill="#000" fill-opacity="0.32"/><path d="M887.8,404.8 L889.9,470.6 L885.6,470.6 Z" fill="#000" fill-opacity="0.34"/><path d="M891.3,437.9 L893.5,473.2 L889.0,473.2 Z" fill="#000" fill-opacity="0.21"/><path d="M898.6,426.1 L900.9,478.9 L896.4,478.9 Z" fill="#000" fill-opacity="0.32"/><path d="M905.0,444.9 L907.0,484.0 L903.0,484.0 Z" fill="#000" fill-opacity="0.32"/><path d="M913.4,453.9 L916.3,488.7 L910.5,488.7 Z" fill="#000" fill-opacity="0.34"/><path d="M919.6,439.8 L921.2,489.9 L917.9,489.9 Z" fill="#000" fill-opacity="0.26"/><path d="M925.6,439.7 L926.8,491.1 L924.3,491.1 Z" fill="#000" fill-opacity="0.34"/><path d="M931.7,449.5 L934.5,492.3 L928.9,492.3 Z" fill="#000" fill-opacity="0.26"/><path d="M937.6,438.4 L938.9,493.5 L936.3,493.5 Z" fill="#000" fill-opacity="0.26"/><path d="M943.1,428.2 L946.1,494.4 L940.0,494.4 Z" fill="#000" fill-opacity="0.20"/><path d="M948.9,464.1 L951.0,495.4 L946.9,495.4 Z" fill="#000" fill-opacity="0.31"/><path d="M957.3,450.9 L959.2,496.9 L955.5,496.9 Z" fill="#000" fill-opacity="0.19"/><path d="M964.0,459.1 L965.3,500.9 L962.8,500.9 Z" fill="#000" fill-opacity="0.28"/><path d="M969.3,484.4 L970.7,504.3 L967.9,504.3 Z" fill="#000" fill-opacity="0.26"/><path d="M977.8,483.6 L979.8,508.2 L975.8,508.2 Z" fill="#000" fill-opacity="0.14"/><path d="M990.9,493.7 L992.7,511.4 L989.1,511.4 Z" fill="#000" fill-opacity="0.17"/><path d="M998.1,482.0 L999.8,511.9 L996.4,511.9 Z" fill="#000" fill-opacity="0.20"/><path d="M1007.6,479.6 L1008.9,509.5 L1006.3,509.5 Z" fill="#000" fill-opacity="0.16"/><path d="M1019.5,468.9 L1021.4,502.1 L1017.7,502.1 Z" fill="#000" fill-opacity="0.29"/><path d="M1031.3,454.3 L1032.6,494.0 L1029.9,494.0 Z" fill="#000" fill-opacity="0.27"/><path d="M1045.2,446.6 L1046.7,487.7 L1043.7,487.7 Z" fill="#000" fill-opacity="0.18"/><path d="M1060.3,463.4 L1062.9,484.0 L1057.7,484.0 Z" fill="#000" fill-opacity="0.30"/><path d="M1066.8,462.3 L1069.0,483.5 L1064.7,483.5 Z" fill="#000" fill-opacity="0.17"/><path d="M1072.9,444.0 L1074.6,483.0 L1071.2,483.0 Z" fill="#000" fill-opacity="0.28"/><path d="M1079.3,456.4 L1081.4,482.5 L1077.2,482.5 Z" fill="#000" fill-opacity="0.12"/></g><g filter="url(#bl3)" fill="none" stroke="#000"><path d="M499,515 Q514,521 529,516" stroke-opacity="0.6" stroke-width="3"/><path d="M975,507 Q990,512 1005,509" stroke-opacity="0.45" stroke-width="3.5"/><path d="M1026,488 L1028,494" stroke-opacity="0.4" stroke-width="3"/></g></g></g><rect x="156.5" y="67.5" width="930.0" height="743.0" fill="none" stroke="#1e1e1e" stroke-width="1"/><path d="M156.5,170.5h9.5M1086.5,170.5h-9.5" stroke="#1e1e1e"/><path d="M156.5,287.5h9.5M1086.5,287.5h-9.5" stroke="#1e1e1e"/><path d="M156.5,404.5h9.5M1086.5,404.5h-9.5" stroke="#1e1e1e"/><path d="M156.5,521.5h9.5M1086.5,521.5h-9.5" stroke="#1e1e1e"/><path d="M156.5,639.5h9.5M1086.5,639.5h-9.5" stroke="#1e1e1e"/><path d="M156.5,756.5h9.5M1086.5,756.5h-9.5" stroke="#1e1e1e"/><path d="M342.5,810.5v-9.5M342.5,67.5v9.5" stroke="#1e1e1e"/><path d="M528.5,810.5v-9.5M528.5,67.5v9.5" stroke="#1e1e1e"/><path d="M714.5,810.5v-9.5M714.5,67.5v9.5" stroke="#1e1e1e"/><path d="M900.5,810.5v-9.5M900.5,67.5v9.5" stroke="#1e1e1e"/><text x="101.25" y="60" font-family="Liberation Sans, sans-serif" font-size="18" fill="#000" textLength="64" lengthAdjust="spacingAndGlyphs">kaband</text><text x="174.5" y="60" font-family="Liberation Sans, sans-serif" font-size="18" fill="#000" textLength="213.5" lengthAdjust="spacingAndGlyphs">2015_Greenland_C130:</text><text x="397.5" y="60" font-family="Liberation Sans, sans-serif" font-size="18" fill="#000" textLength="270.5" lengthAdjust="spacingAndGlyphs">&quot;Sea Ice: North Pole Transect&quot;</text><text x="680" y="60" font-family="Liberation Sans, sans-serif" font-size="18" fill="#000" textLength="179" lengthAdjust="spacingAndGlyphs">20150325_02_396:</text><text x="867.5" y="60" font-family="Liberation Sans, sans-serif" font-size="18" fill="#000" textLength="99" lengthAdjust="spacingAndGlyphs">16:52:41.5</text><text x="974" y="60" font-family="Liberation Sans, sans-serif" font-size="18" fill="#000" textLength="18" lengthAdjust="spacingAndGlyphs">to</text><text x="1001" y="60" font-family="Liberation Sans, sans-serif" font-size="18" fill="#000" textLength="99.5" lengthAdjust="spacingAndGlyphs">16:53:19.4</text><text x="1107.3" y="60" font-family="Liberation Sans, sans-serif" font-size="18" fill="#000" textLength="33.8" lengthAdjust="spacingAndGlyphs">GPS</text><text x="146" y="178.2" font-family="Liberation Sans, sans-serif" font-size="22" fill="#262626" text-anchor="end">38</text><text x="146" y="295.4" font-family="Liberation Sans, sans-serif" font-size="22" fill="#262626" text-anchor="end">36</text><text x="146" y="412.6" font-family="Liberation Sans, sans-serif" font-size="22" fill="#262626" text-anchor="end">34</text><text x="146" y="529.8" font-family="Liberation Sans, sans-serif" font-size="22" fill="#262626" text-anchor="end">32</text><text x="146" y="647.0" font-family="Liberation Sans, sans-serif" font-size="22" fill="#262626" text-anchor="end">30</text><text x="146" y="764.2" font-family="Liberation Sans, sans-serif" font-size="22" fill="#262626" text-anchor="end">28</text><text x="1095" y="95.0" font-family="Liberation Sans, sans-serif" font-size="22" fill="#262626">2.9</text><text x="1095" y="172.0" font-family="Liberation Sans, sans-serif" font-size="22" fill="#262626">2.91</text><text x="1095" y="249.0" font-family="Liberation Sans, sans-serif" font-size="22" fill="#262626">2.92</text><text x="1095" y="326.0" font-family="Liberation Sans, sans-serif" font-size="22" fill="#262626">2.93</text><text x="1095" y="403.0" font-family="Liberation Sans, sans-serif" font-size="22" fill="#262626">2.94</text><text x="1095" y="480.0" font-family="Liberation Sans, sans-serif" font-size="22" fill="#262626">2.95</text><text x="1095" y="557.0" font-family="Liberation Sans, sans-serif" font-size="22" fill="#262626">2.96</text><text x="1095" y="634.0" font-family="Liberation Sans, sans-serif" font-size="22" fill="#262626">2.97</text><text x="1095" y="711.0" font-family="Liberation Sans, sans-serif" font-size="22" fill="#262626">2.98</text><text x="1095" y="788.0" font-family="Liberation Sans, sans-serif" font-size="22" fill="#262626">2.99</text><text x="156" y="827.1" font-family="Liberation Sans, sans-serif" font-size="17" font-weight="bold" fill="#000" text-anchor="middle" textLength="70">0.00 km</text><text x="156" y="847.9" font-family="Liberation Sans, sans-serif" font-size="17" font-weight="bold" fill="#000" text-anchor="middle" textLength="77">84.635 N</text><text x="156" y="868.75" font-family="Liberation Sans, sans-serif" font-size="17" font-weight="bold" fill="#000" text-anchor="middle" textLength="80.5">51.210 W</text><text x="342" y="827.1" font-family="Liberation Sans, sans-serif" font-size="17" font-weight="bold" fill="#000" text-anchor="middle" textLength="70">1.00 km</text><text x="342" y="847.9" font-family="Liberation Sans, sans-serif" font-size="17" font-weight="bold" fill="#000" text-anchor="middle" textLength="77">84.627 N</text><text x="342" y="868.75" font-family="Liberation Sans, sans-serif" font-size="17" font-weight="bold" fill="#000" text-anchor="middle" textLength="80.5">51.247 W</text><text x="528" y="827.1" font-family="Liberation Sans, sans-serif" font-size="17" font-weight="bold" fill="#000" text-anchor="middle" textLength="70">2.00 km</text><text x="528" y="847.9" font-family="Liberation Sans, sans-serif" font-size="17" font-weight="bold" fill="#000" text-anchor="middle" textLength="77">84.618 N</text><text x="528" y="868.75" font-family="Liberation Sans, sans-serif" font-size="17" font-weight="bold" fill="#000" text-anchor="middle" textLength="80.5">51.282 W</text><text x="620.5" y="827.1" font-family="Liberation Sans, sans-serif" font-size="17" font-weight="bold" fill="#000" text-anchor="middle" textLength="33">dist</text><text x="620.5" y="847.9" font-family="Liberation Sans, sans-serif" font-size="17" font-weight="bold" fill="#000" text-anchor="middle" textLength="21">lat</text><text x="620.5" y="868.75" font-family="Liberation Sans, sans-serif" font-size="17" font-weight="bold" fill="#000" text-anchor="middle" textLength="26">lon</text><text x="714" y="827.1" font-family="Liberation Sans, sans-serif" font-size="17" font-weight="bold" fill="#000" text-anchor="middle" textLength="70">3.00 km</text><text x="714" y="847.9" font-family="Liberation Sans, sans-serif" font-size="17" font-weight="bold" fill="#000" text-anchor="middle" textLength="77">84.610 N</text><text x="714" y="868.75" font-family="Liberation Sans, sans-serif" font-size="17" font-weight="bold" fill="#000" text-anchor="middle" textLength="80.5">51.318 W</text><text x="900.5" y="827.1" font-family="Liberation Sans, sans-serif" font-size="17" font-weight="bold" fill="#000" text-anchor="middle" textLength="70">3.99 km</text><text x="900.5" y="847.9" font-family="Liberation Sans, sans-serif" font-size="17" font-weight="bold" fill="#000" text-anchor="middle" textLength="77">84.602 N</text><text x="900.5" y="868.75" font-family="Liberation Sans, sans-serif" font-size="17" font-weight="bold" fill="#000" text-anchor="middle" textLength="80.5">51.354 W</text><text x="1086" y="827.1" font-family="Liberation Sans, sans-serif" font-size="17" font-weight="bold" fill="#000" text-anchor="middle" textLength="70">4.99 km</text><text x="1086" y="847.9" font-family="Liberation Sans, sans-serif" font-size="17" font-weight="bold" fill="#000" text-anchor="middle" textLength="77">84.594 N</text><text x="1086" y="868.75" font-family="Liberation Sans, sans-serif" font-size="17" font-weight="bold" fill="#000" text-anchor="middle" textLength="80.5">51.391 W</text><text transform="translate(98.9,439.5) rotate(-90)" font-family="Liberation Sans, sans-serif" font-size="23" fill="#262626" text-anchor="middle" textLength="359">WGS-84 Elevation, e<tspan font-size="15" dy="6">r</tspan><tspan dy="-6"> = 1.57 (m)</tspan></text><text transform="translate(1170,438.5) rotate(-90)" font-family="Liberation Sans, sans-serif" font-size="23" fill="#262626" text-anchor="middle" textLength="245">Propagation delay (us)</text></svg></body></html>
